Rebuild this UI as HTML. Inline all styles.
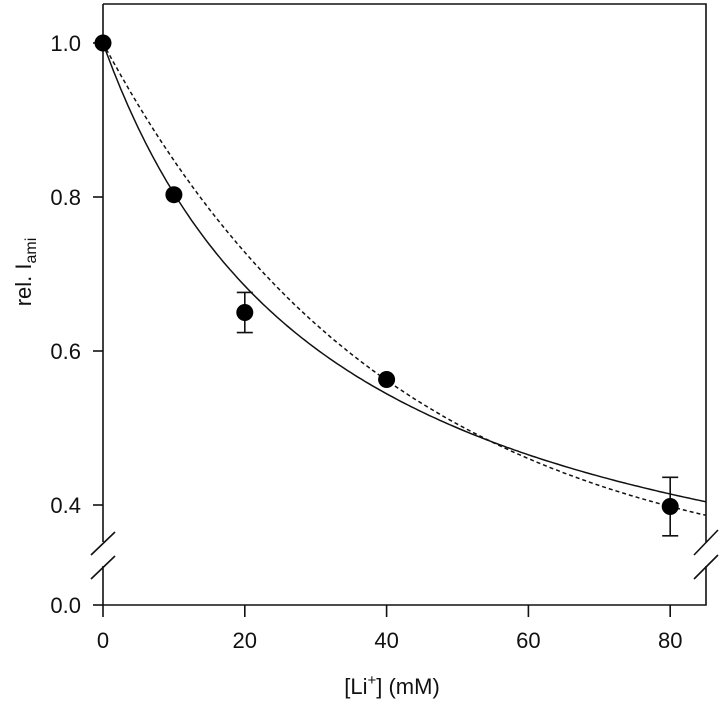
<!DOCTYPE html>
<html><head><meta charset="utf-8"><style>
body{margin:0;background:#fff}
svg text{font-family:"Liberation Sans",Arial,sans-serif;fill:#111}
</style></head><body>
<svg id="chart" width="720" height="699" xmlns="http://www.w3.org/2000/svg">
<g id="axes" stroke="#111" stroke-width="1.6" fill="none"></g>
<g id="curves"></g>
<g id="points"></g>
<g id="labels"></g>
<text transform="translate(31,272) rotate(-90)" text-anchor="middle" font-size="22">rel. I<tspan font-size="16" dy="5">ami</tspan></text>
<text x="392" y="694" text-anchor="middle" font-size="22">[Li<tspan font-size="15" dy="-9">+</tspan><tspan dy="9">] (mM)</tspan></text>
</svg>
<script>
const xValues=[0,10,20,40,80];
const yValues=[1.0,0.803,0.65,0.563,0.398];
const yErrors=[0,0,0.026,0,0.038];
const xTicks=[0,20,40,60,80];
const yTicks=[0.4,0.6,0.8,1.0];
const yTickLabels=["0.4","0.6","0.8","1.0"];
const solidParams=[0.18,32];   // a + (1-a)K/(K+x)
const dashedParams=[0.3,40.7]; // a + (1-a)exp(-x/t)
const NS="http://www.w3.org/2000/svg";
const X=v=>103+v*7.09;
const Y=v=>43+(1-v)*770;
const Y0=605;
function el(tag,attrs,parent){const e=document.createElementNS(NS,tag);for(const k in attrs)e.setAttribute(k,attrs[k]);parent.appendChild(e);return e;}
const axes=document.getElementById('axes');
const L=103,R=706,T=4;
let e;
e=el('path',{d:`M${L},${T}H${R}V542M${R},566V${Y0}H${L}V566M${L},542V${T}`},axes);

e=el('path',{d:`M${L-12},555L${L+12},532M${L-12},579L${L+12},556M${R-12},555L${R+12},530M${R-12},579L${R+12},555`},axes);

const lab=document.getElementById('labels');
yTicks.forEach((v,i)=>{
 e=el('line',{x1:L-10,x2:L,y1:Y(v),y2:Y(v)},axes);
 
 e=el('text',{x:L-22,y:Y(v)+8,'text-anchor':'end','font-size':22},lab);e.textContent=yTickLabels[i];
 
});
e=el('line',{x1:L-10,x2:L,y1:Y0,y2:Y0},axes);

e=el('text',{x:L-22,y:Y0+8,'text-anchor':'end','font-size':22},lab);e.textContent="0.0";

xTicks.forEach(v=>{
 e=el('line',{x1:X(v),x2:X(v),y1:Y0,y2:Y0+12},axes);
 
 e=el('text',{x:X(v),y:Y0+43,'text-anchor':'middle','font-size':22},lab);e.textContent=String(v);
 
});
const cur=document.getElementById('curves');
function curve(f,dash,name){let d='';for(let x=0;x<=85;x+=0.5){d+=(x?'L':'M')+X(x).toFixed(1)+','+Y(f(x)).toFixed(1);}
 const p=el('path',{d,stroke:'#111','stroke-width':1.5,fill:'none'},cur);if(dash)p.setAttribute('stroke-dasharray',dash);
 }
curve(x=>solidParams[0]+(1-solidParams[0])*solidParams[1]/(solidParams[1]+x),null,'solid-fit-curve');
curve(x=>dashedParams[0]+(1-dashedParams[0])*Math.exp(-x/dashedParams[1]),'4,3','dashed-fit-curve');
const pts=document.getElementById('points');
xValues.forEach((x,i)=>{
 if(yErrors[i]>0){
  const a=Y(yValues[i]+yErrors[i]),b=Y(yValues[i]-yErrors[i]);
  e=el('path',{d:`M${X(x)},${a}V${b}M${X(x)-8},${a}H${X(x)+8}M${X(x)-8},${b}H${X(x)+8}`,stroke:'#111','stroke-width':1.6,fill:'none'},pts);
  
 }
 e=el('circle',{cx:X(x),cy:Y(yValues[i]),r:8.5,fill:'#000'},pts);
 
});
</script>
</body></html>
